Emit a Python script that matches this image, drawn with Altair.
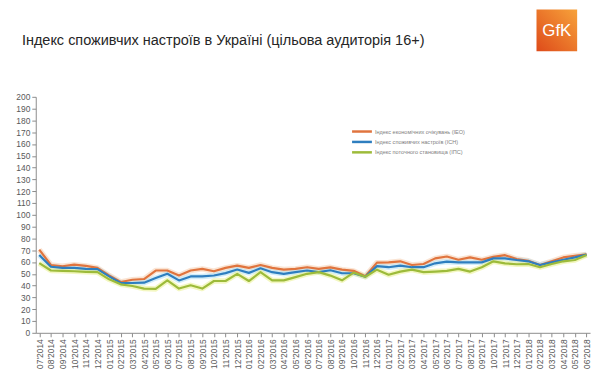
import altair as alt
import pandas as pd

# ---------------- data ----------------
months = [
    "07'2014", "08'2014", "09'2014", "10'2014", "11'2014", "12'2014",
    "01'2015", "02'2015", "03'2015", "04'2015", "05'2015", "06'2015",
    "07'2015", "08'2015", "09'2015", "10'2015", "11'2015", "12'2015",
    "01'2016", "02'2016", "03'2016", "04'2016", "05'2016", "06'2016",
    "07'2016", "08'2016", "09'2016", "10'2016", "11'2016", "12'2016",
    "01'2017", "02'2017", "03'2017", "04'2017", "05'2017", "06'2017",
    "07'2017", "08'2017", "09'2017", "10'2017", "11'2017", "12'2017",
    "01'2018", "02'2018", "03'2018", "04'2018", "05'2018", "06'2018",
]

ieo = [70.5, 57.5, 56.4, 57.8, 56.7, 55.0, 48.6, 43.1, 45.0, 45.6, 52.8, 52.8,
       48.6, 52.8, 54.2, 52.2, 55.0, 56.9, 55.0, 57.5, 55.0, 53.6, 54.2, 55.6,
       54.2, 55.5, 53.5, 52.5, 48.0, 59.5, 59.7, 60.6, 57.5, 58.3, 63.1, 64.7,
       61.9, 63.9, 61.9, 64.4, 65.8, 62.5, 61.1, 57.5, 60.6, 63.9, 65.3, 66.5]

isn = [66.0, 56.0, 55.0, 55.0, 54.2, 54.0, 47.8, 42.2, 42.2, 42.5, 46.4, 50.0,
       44.4, 47.8, 47.8, 48.6, 50.6, 53.6, 50.8, 54.7, 51.4, 50.0, 51.4, 52.8,
       51.4, 53.0, 50.5, 50.5, 47.5, 56.5, 55.6, 56.9, 55.6, 55.6, 58.9, 60.3,
       59.7, 59.7, 59.7, 63.1, 63.1, 61.7, 60.6, 57.5, 59.7, 61.9, 63.9, 66.3]

ips = [59.0, 52.8, 52.5, 52.2, 51.7, 51.4, 45.3, 41.1, 39.7, 37.5, 37.2, 44.4,
       37.5, 40.3, 37.5, 43.9, 43.9, 50.0, 43.9, 51.4, 44.4, 44.4, 47.2, 50.0,
       51.4, 48.5, 44.5, 51.0, 47.5, 53.5, 49.2, 51.9, 53.6, 51.4, 51.9, 52.5,
       54.2, 51.9, 55.6, 60.6, 58.9, 58.1, 58.3, 55.6, 58.3, 60.6, 61.7, 66.0]

series_names = [
    "Індекс економічних очікувань (ІЕО)",
    "Індекс споживчих настроїв (ІСН)",
    "Індекс поточного становища (ІПС)",
]
line_colors = ["#E0743E", "#2E7EBF", "#9DBB3A"]
halo_colors = ["#F6CDAE", "#AEDFF3", "#E9F08E"]
y_ticks = list(range(0, 201, 10))
title_text = ["Індекс споживчих настроїв в Україні (цільова аудиторія 16+)"]
logo_text = ["GfK"]

rows = []
for name, vals in zip(series_names, [ieo, isn, ips]):
    for i, (m, v) in enumerate(zip(months, vals)):
        rows.append({"month": m, "series": name, "value": v, "idx": i})
df = pd.DataFrame(rows)
legend_df = pd.DataFrame({"series": series_names, "row": list(range(len(series_names)))})

W, H = 559, 238
axis_col = "#8C8C8C"
lab_col = "#595959"

x_enc = alt.X(
    "month:O", sort=months,
    scale=alt.Scale(type="point", padding=0.3),
    axis=alt.Axis(title=None, labelAngle=270, labelAlign="right",
                  labelBaseline="middle", labelFontSize=8.5, labelColor=lab_col,
                  labelFont="Liberation Sans", tickSize=4, tickColor=axis_col,
                  domainColor=axis_col, labelPadding=2, grid=False,
                  labelOverlap=False),
)
y_enc = alt.Y(
    "value:Q",
    scale=alt.Scale(domain=[0, 200], nice=False, zero=True),
    axis=alt.Axis(title=None, values=y_ticks, tickSize=4, tickColor=axis_col,
                  domainColor=axis_col, labelFontSize=8.5, labelColor=lab_col,
                  labelFont="Liberation Sans", labelPadding=2, grid=False),
)
color_main = alt.Color("series:N", sort=series_names,
                       scale=alt.Scale(domain=series_names, range=line_colors),
                       legend=None)

base = alt.Chart(df)

halo = base.mark_line(strokeWidth=5.5, opacity=0.55, strokeJoin="round").encode(
    x=x_enc, y=y_enc,
    color=alt.Color("series:N", sort=series_names,
                    scale=alt.Scale(domain=series_names, range=halo_colors),
                    legend=None),
    order="idx:Q",
)

lines = base.mark_line(strokeWidth=2.2, strokeJoin="round").encode(
    x=x_enc, y=y_enc, color=color_main, order="idx:Q",
)

data_layer = alt.layer(halo, lines).resolve_scale(color="independent")

# manual legend (series names from the data arrays)
leg_y = alt.Y("row:O", scale=alt.Scale(type="point", range=[35, 56], padding=0),
              axis=None)
leg_sym = alt.Chart(legend_df).mark_rule(strokeWidth=2.5).encode(
    x=alt.value(319), x2=alt.value(339), y=leg_y, color=color_main,
)
leg_txt = alt.Chart(legend_df).mark_text(
    align="left", baseline="middle", fontSize=5.6, font="Liberation Sans",
    color="#7F7F7F",
).encode(x=alt.value(342), y=leg_y, text="series:N")

title = alt.Chart(pd.DataFrame({"t": title_text})).mark_text(
    align="left", baseline="middle", fontSize=14.6,
    font="Liberation Sans", color="#262626",
).encode(x=alt.value(-14), y=alt.value(-56), text="t:N")

logo_box = alt.Chart(pd.DataFrame({"t": logo_text})).mark_rect(
    color=alt.LinearGradient(
        gradient="linear",
        stops=[alt.GradientStop(color="#DE4B1A", offset=0),
               alt.GradientStop(color="#F7A23A", offset=1)],
        x1=0, y1=1, x2=1, y2=0,
    )
).encode(x=alt.value(505), x2=alt.value(546), y=alt.value(-88), y2=alt.value(-46))

logo_txt = alt.Chart(pd.DataFrame({"t": logo_text})).mark_text(
    align="center", baseline="middle", fontSize=17,
    font="Liberation Sans", color="white",
).encode(x=alt.value(525.5), y=alt.value(-66), text="t:N")

chart = alt.layer(data_layer, leg_sym, leg_txt, title, logo_box, logo_txt).resolve_scale(
    y="independent", color="independent"
).properties(
    width=W, height=H,
    padding={"left": 28, "top": 88, "right": 5, "bottom": 45},
    autosize="none",
    background="white",
).configure_view(stroke=None)

chart.save("out.html", embed_options={"renderer": "svg", "actions": False})
